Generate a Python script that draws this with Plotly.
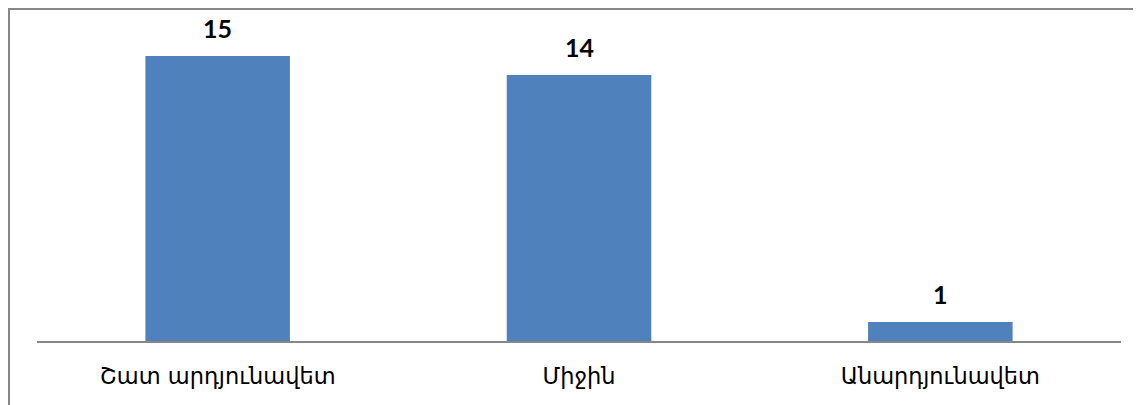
import plotly.graph_objects as go

categories = ["Շատ արդյունավետ", "Միջին", "Անարդյունավետ"]
values = [15, 14, 1]
value_labels = ["15", "14", "1"]

W, H = 1141, 405
L, R, T, B = 29, 28, 29, 72
pw, ph = W - L - R, H - T - B

fig = go.Figure()
fig.add_trace(go.Bar(
    x=categories, y=values,
    marker=dict(color="#4F81BD", line=dict(width=0)),
    hoverinfo="skip",
))

for c, v, t in zip(categories, values, value_labels):
    fig.add_annotation(x=c, y=v, text="<b>" + t + "</b>", showarrow=False,
                       yanchor="bottom", yshift=11,
                       font=dict(family="Lato", size=25, color="#000000"))

# outer chart border
fig.add_shape(type="rect", xref="paper", yref="paper",
              x0=(1 - L) / pw, x1=(W + 10 - L) / pw,
              y0=-(B + 10) / ph, y1=1 + (T - 1) / ph,
              line=dict(color="#878787", width=2), fillcolor="rgba(0,0,0,0)", layer="below")

fig.update_layout(
    width=W, height=H,
    margin=dict(l=L, r=R, t=T, b=B),
    paper_bgcolor="white", plot_bgcolor="white",
    bargap=0.6, showlegend=False,
    xaxis=dict(showline=True, linecolor="#878787", linewidth=2, ticks="",
               showgrid=False, zeroline=False, ticklabelstandoff=14,
               tickfont=dict(family="DejaVu Sans", size=22.5, color="#000000")),
    yaxis=dict(range=[0, 16], visible=False, showgrid=False, zeroline=False),
)

fig.write_html("out.html")
